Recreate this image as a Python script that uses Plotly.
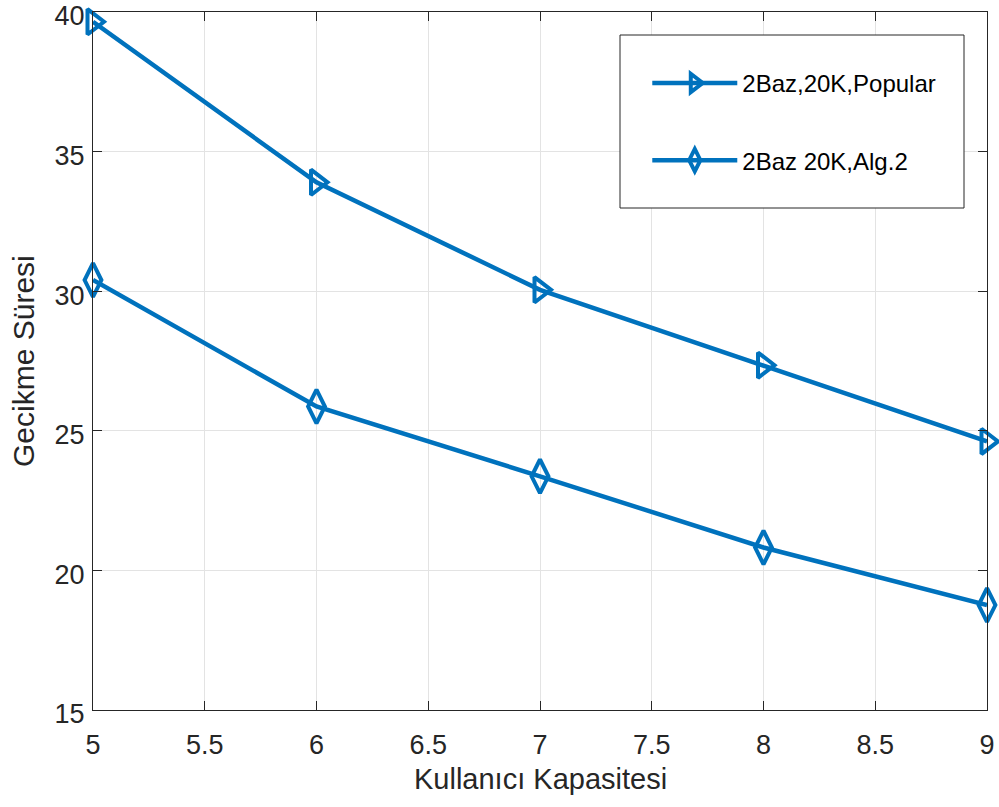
import plotly.graph_objects as go

x_vals = [5, 6, 7, 8, 9]
popular = [39.65, 33.9, 30.05, 27.35, 24.62]
alg2 = [30.4, 25.87, 23.37, 20.82, 18.76]
series_names = ["2Baz,20K,Popular", "2Baz 20K,Alg.2"]
x_ticks = [5, 5.5, 6, 6.5, 7, 7.5, 8, 8.5, 9]
x_tick_text = ["5", "5.5", "6", "6.5", "7", "7.5", "8", "8.5", "9"]
y_ticks = [15, 20, 25, 30, 35, 40]
x_title = "Kullanıcı Kapasitesi"
y_title = "Gecikme Süresi"

color = "#0072BD"
font_family = "Liberation Sans, Arial, sans-serif"
dark = "#262626"

fig = go.Figure()
fig.add_trace(go.Scatter(
    x=x_vals, y=popular, name=series_names[0], mode="lines+markers",
    line=dict(color=color, width=4.5),
    marker=dict(symbol="triangle-right-open", size=22, color=color, line=dict(width=4, color=color)),
    legendgroup="a", cliponaxis=False,
))
fig.add_trace(go.Scatter(
    x=x_vals, y=alg2, name=series_names[1], mode="lines+markers",
    line=dict(color=color, width=4.5),
    marker=dict(symbol="diamond-tall-open", size=24, color=color, line=dict(width=4, color=color)),
    legendgroup="b", cliponaxis=False,
))

axis_common = dict(
    showgrid=True, gridcolor="#e3e3e3", gridwidth=1,
    showline=True, linecolor=dark, linewidth=1, mirror="ticks",
    ticks="inside", ticklen=9, tickcolor=dark, tickwidth=1,
    zeroline=False, automargin=False, ticklabeloverflow="allow",
    tickfont=dict(family=font_family, size=27, color=dark),
)

fig.update_layout(
    width=999, height=807,
    margin=dict(l=93, r=12, t=12, b=97),
    paper_bgcolor="white", plot_bgcolor="white",
    font=dict(family=font_family, color=dark),
    xaxis=dict(range=[5, 9], tickvals=x_ticks, ticktext=x_tick_text,
               ticklabelstandoff=11, **axis_common),
    yaxis=dict(range=[15, 40], tickvals=y_ticks, ticklabelstandoff=2,
               ticklabelshift=4, **axis_common),
    showlegend=True,
    legend=dict(
        x=0.62, y=0.930, xanchor="left", yanchor="top",
        bgcolor="rgba(0,0,0,0)", borderwidth=0,
        font=dict(family=font_family, size=24, color="black"),
        tracegroupgap=43, itemwidth=85,
    ),
    shapes=[dict(type="rect", xref="paper", yref="paper",
                 x0=(620 - 93) / 894, x1=(964 - 93) / 894,
                 y0=(710 - 208) / 698, y1=(710 - 35) / 698,
                 line=dict(color=dark, width=1), fillcolor="white", layer="above")],
    annotations=[
        dict(text=x_title, xref="paper", yref="paper", x=0.5, y=-(779 - 710) / 698,
             xanchor="center", yanchor="middle", showarrow=False,
             font=dict(family=font_family, size=29, color=dark)),
        dict(text=y_title, xref="paper", yref="paper", x=-(93 - 23) / 894, y=0.5,
             xanchor="center", yanchor="middle", showarrow=False, textangle=-90,
             font=dict(family=font_family, size=30, color=dark)),
    ],
)

fig.write_html("out.html")
